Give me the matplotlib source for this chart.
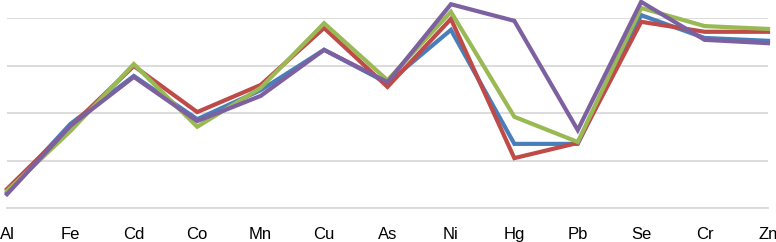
import matplotlib
matplotlib.use("Agg")
import matplotlib.pyplot as plt

# categories on the x axis
elements = ["Al", "Fe", "Cd", "Co", "Mn", "Cu", "As", "Ni", "Hg", "Pb", "Se", "Cr", "Zn"]

# series values (arbitrary units)
blue_vals   = [0.32, 1.77, 2.78, 1.87, 2.48, 3.33, 2.63, 3.75, 1.35, 1.35, 4.06, 3.58, 3.52]
red_vals    = [0.40, 1.71, 2.99, 2.02, 2.59, 3.79, 2.55, 3.98, 1.05, 1.37, 3.92, 3.71, 3.71]
green_vals  = [0.36, 1.62, 3.03, 1.71, 2.53, 3.89, 2.69, 4.13, 1.92, 1.39, 4.21, 3.83, 3.77]
purple_vals = [0.29, 1.73, 2.76, 1.83, 2.36, 3.33, 2.65, 4.29, 3.94, 1.64, 4.34, 3.54, 3.47]

series = [
    (blue_vals, "#4A7EBB"),
    (red_vals, "#BE4B48"),
    (green_vals, "#98B954"),
    (purple_vals, "#7D60A0"),
]

W, H = 776, 242
fig = plt.figure(figsize=(W / 100, H / 100), dpi=100)
ax = fig.add_axes([7 / W, (H - 208) / H, (768 - 7) / W, (208 - 18) / H])

x = list(range(len(elements)))
for vals, col in series:
    ax.plot(x, vals, color=col, linewidth=3.0, solid_joinstyle="miter", clip_on=False, zorder=3)

ax.set_xlim(0, len(elements) - 1)
ax.set_ylim(0, 4)
ax.set_yticks([0, 1, 2, 3, 4])
ax.set_yticklabels([])
ax.yaxis.grid(True, color="#D9D9D9", linewidth=1.3)
ax.set_axisbelow(True)

ax.set_xticks(x)
ax.set_xticklabels(elements, fontsize=12, family="Liberation Sans")
ax.tick_params(axis="x", length=0, pad=14)
ax.tick_params(axis="y", length=0)

for side in ["left", "right", "top"]:
    ax.spines[side].set_visible(False)
ax.spines["bottom"].set_color("#D9D9D9")
ax.spines["bottom"].set_linewidth(1.3)

fig.savefig("out.png", dpi=100)
